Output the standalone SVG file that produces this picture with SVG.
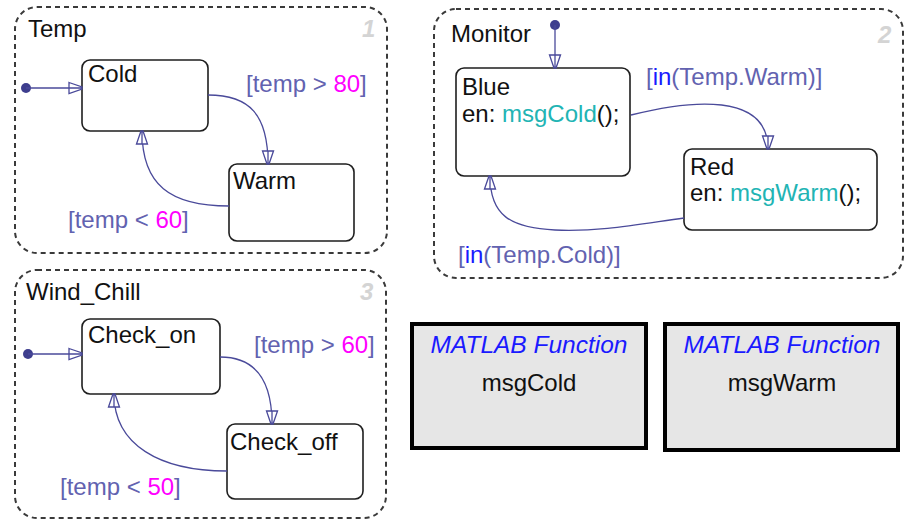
<svg xmlns="http://www.w3.org/2000/svg" width="905" height="520" viewBox="0 0 905 520">
<defs>
<marker id="ah" markerWidth="16" markerHeight="14" refX="14" refY="7" orient="auto" markerUnits="userSpaceOnUse">
<path d="M1,1.5 L14,6 L14,8 L1,12.5 Z M1,7 L14,7" fill="#ffffff" stroke="#4a4a9a" stroke-width="1.3"/>
</marker>
<style>
text{font-family:"Liberation Sans",Arial,sans-serif;font-size:24px;fill:#111}
.box{fill:none;stroke:#3a3a3a;stroke-width:2;stroke-dasharray:5,4}
.st{fill:#fff;stroke:#1e1e1e;stroke-width:1.6}
.tr{fill:none;stroke:#4a4a9a;stroke-width:1.3;marker-end:url(#ah)}
.dot{fill:#3e3e8e}
.lbl{fill:#6262b0}
.num{fill:#ff00ff}
.kw{fill:#1a1aff}
.fn{fill:#22b4b4}
.idx{font-weight:bold;font-style:italic;fill:#d4d4d4}
.mf{fill:#e6e6e6;stroke:#000;stroke-width:4}
.mt{font-style:italic;fill:#1a1aff;text-anchor:middle;font-size:24.5px}
.mn{text-anchor:middle}
</style>
</defs>

<g id="Temp">
<rect class="box" x="15" y="7" width="372" height="246" rx="22"/>
<text x="28" y="37">Temp</text>
<text class="idx" x="362" y="37">1</text>
</g>
<g id="Cold">
<rect class="st" x="82" y="60" width="126" height="71" rx="8"/>
<text x="88" y="82">Cold</text>
</g>
<g id="Warm">
<rect class="st" x="229" y="164" width="125" height="77" rx="8"/>
<text x="233" y="189">Warm</text>
</g>

<g id="Monitor">
<rect class="box" x="434" y="9" width="469" height="269" rx="22"/>
<text x="451" y="42">Monitor</text>
<text class="idx" x="878" y="43">2</text>
</g>
<g id="Blue">
<rect class="st" x="456" y="68" width="174" height="108" rx="8"/>
<text x="462" y="95">Blue</text>
<text x="462" y="122">en: <tspan class="fn">msgCold</tspan>();</text>
</g>
<g id="Red">
<rect class="st" x="684" y="149" width="193" height="81" rx="8"/>
<text x="690" y="175">Red</text>
<text x="690" y="201">en: <tspan class="fn">msgWarm</tspan>();</text>
</g>

<g id="Wind_Chill">
<rect class="box" x="15" y="270" width="371" height="248" rx="22"/>
<text x="26" y="300">Wind_Chill</text>
<text class="idx" x="360" y="300">3</text>
</g>
<g id="Check_on">
<rect class="st" x="82" y="319" width="138" height="75" rx="8"/>
<text x="88" y="343">Check_on</text>
</g>
<g id="Check_off">
<rect class="st" x="227" y="424" width="136" height="75" rx="8"/>
<text x="230" y="450">Check_off</text>
</g>

<g id="msgCold">
<rect class="mf" x="412" y="324" width="234" height="124"/>
<text class="mt" x="529" y="353">MATLAB Function</text>
<text class="mn" x="529" y="391">msgCold</text>
</g>
<g id="msgWarm">
<rect class="mf" x="665" y="324" width="233" height="126"/>
<text class="mt" x="782" y="353">MATLAB Function</text>
<text class="mn" x="782" y="391">msgWarm</text>
</g>

<g id="connectors">
<circle class="dot" cx="26" cy="88" r="5"/>
<path class="tr" d="M26,88 L82,88"/>
<path class="tr" d="M208,95 C250,95 268,115 268,164"/>
<path class="tr" d="M229,206 C170,206 142,185 142,131"/>
<text class="lbl" x="246" y="92">[temp &gt; <tspan class="num">80</tspan>]</text>
<text class="lbl" x="68" y="228">[temp &lt; <tspan class="num">60</tspan>]</text>

<circle class="dot" cx="555" cy="25" r="5"/>
<path class="tr" d="M555,25 L555,68"/>
<path class="tr" d="M631,115 C690,100 768,92 768,149"/>
<path class="tr" d="M684,218 C640,224 600,232 555,230 C510,228 490,215 490,176"/>
<text class="lbl" x="646" y="85">[<tspan class="kw">in</tspan>(Temp.Warm)]</text>
<text class="lbl" x="458" y="263">[<tspan class="kw">in</tspan>(Temp.Cold)]</text>

<circle class="dot" cx="28" cy="354" r="5"/>
<path class="tr" d="M28,354 L82,354"/>
<path class="tr" d="M220,357 C255,357 272,380 272,424"/>
<path class="tr" d="M227,471 C160,471 114,445 114,394"/>
<text class="lbl" x="254" y="353">[temp &gt; <tspan class="num">60</tspan>]</text>
<text class="lbl" x="60" y="495">[temp &lt; <tspan class="num">50</tspan>]</text>
</g>
</svg>
